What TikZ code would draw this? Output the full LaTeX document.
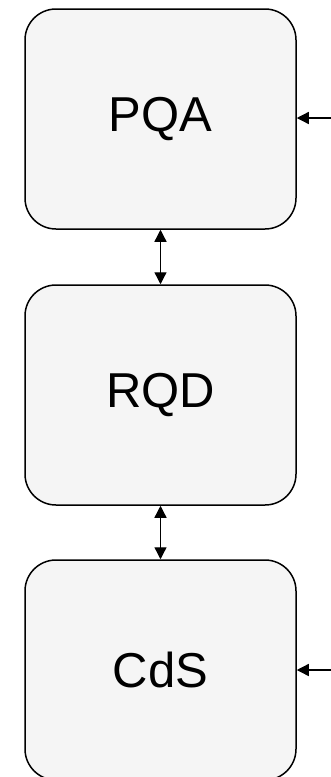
\documentclass[tikz,border=0pt]{standalone}
\usepackage{fontspec}
\setmainfont{Liberation Sans}
\usetikzlibrary{arrows.meta}
\definecolor{boxfill}{HTML}{F5F5F5}
\tikzset{
  blockbox/.style={draw=black, fill=boxfill, line width=1.5pt, rounded corners=31pt,
    minimum width=271pt, minimum height=220pt, inner sep=0pt, font=\fontsize{49}{55}\selectfont},
  conn/.style={line width=1.3pt, -{Triangle[length=12pt,width=12pt]}},
  biconn/.style={line width=1.3pt, {Triangle[length=12pt,width=12pt]}-{Triangle[length=12pt,width=12pt]}}
}
\begin{document}
\begin{tikzpicture}[x=1pt,y=1pt]
\useasboundingbox (0,0) rectangle (331,-777);
\node[blockbox] (pqa) at (160.5,-119) {PQA};
\node[blockbox] (rqd) at (160.5,-395) {RQD};
\node[blockbox] (cds) at (160.5,-670) {CdS};
\coordinate (in1) at (331,-118);
\coordinate (in2) at (331,-670);
\draw[biconn] (pqa.south) -- (rqd.north);
\draw[biconn] (rqd.south) -- (cds.north);
\draw[conn] (in1) -- (in1 -| pqa.east);
\draw[conn] (in2) -- (in2 -| cds.east);
\end{tikzpicture}
\end{document}
